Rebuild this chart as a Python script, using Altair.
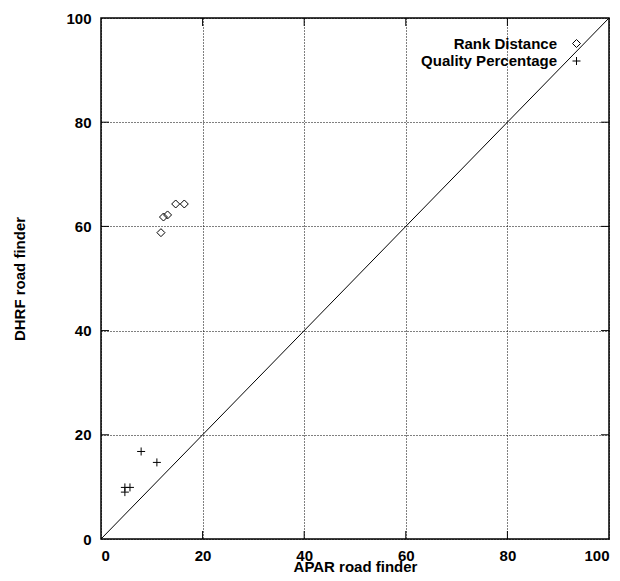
import altair as alt
import pandas as pd

series = ["Rank Distance", "Quality Percentage"]
rank_x = [14.7, 16.4, 12.3, 13.1, 11.8]
rank_y = [64.3, 64.3, 61.8, 62.2, 58.8]
qual_x = [4.7, 5.7, 4.7, 7.9, 11.0]
qual_y = [9.9, 9.9, 9.0, 16.8, 14.7]
diag_vals = [0, 100]
tick_vals = [0, 20, 40, 60, 80, 100]

FONT = "Liberation Sans"
W, H = 508, 521

points = pd.DataFrame({
    "x": rank_x + qual_x,
    "y": rank_y + qual_y,
    "series": [series[0]] * len(rank_x) + [series[1]] * len(qual_x),
})
diag_df = pd.DataFrame({"x": diag_vals, "y": diag_vals})
tick_df = pd.DataFrame({"v": tick_vals[1:-1]})

xs = alt.Scale(domain=[0, 100], nice=False, zero=False)
ys = alt.Scale(domain=[0, 100], nice=False, zero=False)

common_axis = dict(
    values=tick_vals, grid=True, gridDash=[1, 2], gridColor="black", gridWidth=1,
    tickSize=0, domain=False, labelFont=FONT, labelFontSize=15, labelFontWeight="bold",
    labelColor="black", titleFont=FONT, titleFontSize=15, titleFontWeight="bold",
    titleColor="black",
)
xaxis = alt.Axis(title="APAR road finder", labelPadding=9.5, titlePadding=-4.5, **common_axis)
yaxis = alt.Axis(title="DHRF road finder", labelPadding=10, titlePadding=38, **common_axis)

diag = alt.Chart(diag_df).mark_line(color="black", strokeWidth=1).encode(
    x=alt.X("x:Q", scale=xs, axis=xaxis),
    y=alt.Y("y:Q", scale=ys, axis=yaxis),
)

TL = 8
left_ticks = alt.Chart(tick_df).mark_rule(color="black", strokeWidth=1).encode(
    y=alt.Y("v:Q", scale=ys), x=alt.value(0), x2=alt.value(TL))
right_ticks = alt.Chart(tick_df).mark_rule(color="black", strokeWidth=1).encode(
    y=alt.Y("v:Q", scale=ys), x=alt.value(W - TL), x2=alt.value(W))
bottom_ticks = alt.Chart(tick_df).mark_rule(color="black", strokeWidth=1).encode(
    x=alt.X("v:Q", scale=xs), y=alt.value(H - TL), y2=alt.value(H))
top_ticks = alt.Chart(tick_df).mark_rule(color="black", strokeWidth=1).encode(
    x=alt.X("v:Q", scale=xs), y=alt.value(0), y2=alt.value(TL))

pts = alt.Chart(points).mark_point(filled=False, color="black", size=64, strokeWidth=1, opacity=1).encode(
    x=alt.X("x:Q", scale=xs),
    y=alt.Y("y:Q", scale=ys),
    shape=alt.Shape(
        "series:N",
        scale=alt.Scale(domain=series, range=["diamond", "M-1,0L1,0M0,-1L0,1"]),
        legend=alt.Legend(
            title=None, orient="none", legendX=468, legendY=18, padding=0,
            labelAlign="right", labelOffset={"expr": "-27"}, labelFont=FONT, labelFontSize=15,
            labelFontWeight="bold", labelColor="black", symbolSize=64,
            symbolStrokeColor="black", symbolStrokeWidth=1, symbolFillColor="transparent",
            rowPadding=1.5, labelLimit=300,
        ),
    ),
)

chart = alt.layer(diag, left_ticks, right_ticks, bottom_ticks, top_ticks, pts).properties(
    width=W, height=H,
    padding={"left": 93, "top": 10, "right": 3, "bottom": 34},
    autosize=alt.AutoSizeParams(type="none"),
    background="white",
).configure_view(stroke="black", strokeWidth=1.5)

chart.save("out.html", embed_options={"renderer": "svg", "actions": False})
